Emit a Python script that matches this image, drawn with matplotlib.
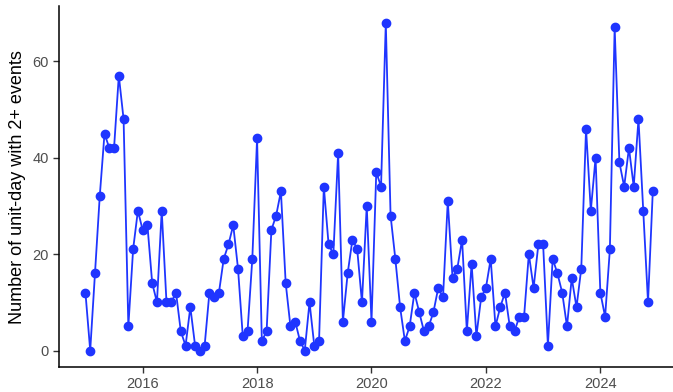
import numpy as np
import matplotlib
matplotlib.use('Agg')
import matplotlib.pyplot as plt

plt.rcParams['font.family'] = ['Liberation Sans', 'DejaVu Sans']

# monthly counts, Jan 2015 .. Dec 2024
counts_2015 = [12, 0, 16, 32, 45, 42, 42, 57, 48, 5, 21, 29]
counts_2016 = [25, 26, 14, 10, 29, 10, 10, 12, 4, 1, 9, 1]
counts_2017 = [0, 1, 12, 11, 12, 19, 22, 26, 17, 3, 4, 19]
counts_2018 = [44, 2, 4, 25, 28, 33, 14, 5, 6, 2, 0, 10]
counts_2019 = [1, 2, 34, 22, 20, 41, 6, 16, 23, 21, 10, 30]
counts_2020 = [6, 37, 34, 68, 28, 19, 9, 2, 5, 12, 8, 4]
counts_2021 = [5, 8, 13, 11, 31, 15, 17, 23, 4, 18, 3, 11]
counts_2022 = [13, 19, 5, 9, 12, 5, 4, 7, 7, 20, 13, 22]
counts_2023 = [22, 1, 19, 16, 12, 5, 15, 9, 17, 46, 29, 40]
counts_2024 = [12, 7, 21, 67, 39, 34, 42, 34, 48, 29, 10, 33]

years = list(range(2015, 2025))
x_ticks = [2016, 2018, 2020, 2022, 2024]
y_ticks = [0, 20, 40, 60]

counts = np.array(counts_2015 + counts_2016 + counts_2017 + counts_2018 + counts_2019
                  + counts_2020 + counts_2021 + counts_2022 + counts_2023 + counts_2024)
t = np.array([y + m / 12 for y in years for m in range(12)])

fig = plt.figure(figsize=(6.73, 3.92), dpi=100)
ax = fig.add_axes([0.087, 0.064, 0.913, 0.92])

ax.plot(t, counts, color='#1f35ff', lw=1.3, marker='o', ms=6, zorder=3)

ax.set_xlim(2014.53, 2025.27)
ax.set_ylim(-3.4, 71.4)
ax.set_xticks(x_ticks)
ax.set_xticklabels([str(v) for v in x_ticks])
ax.set_yticks(y_ticks)

for s in ['top', 'right']:
    ax.spines[s].set_visible(False)
for s in ['left', 'bottom']:
    ax.spines[s].set_linewidth(1.1)
    ax.spines[s].set_color('black')

ax.tick_params(axis='both', length=4, width=1, color='#333333',
               labelcolor='#4d4d4d', labelsize=10.5, pad=3)
ax.set_ylabel('Number of unit-day with 2+ events', fontsize=13, color='black', labelpad=5)

fig.savefig('out.png', dpi=100)
